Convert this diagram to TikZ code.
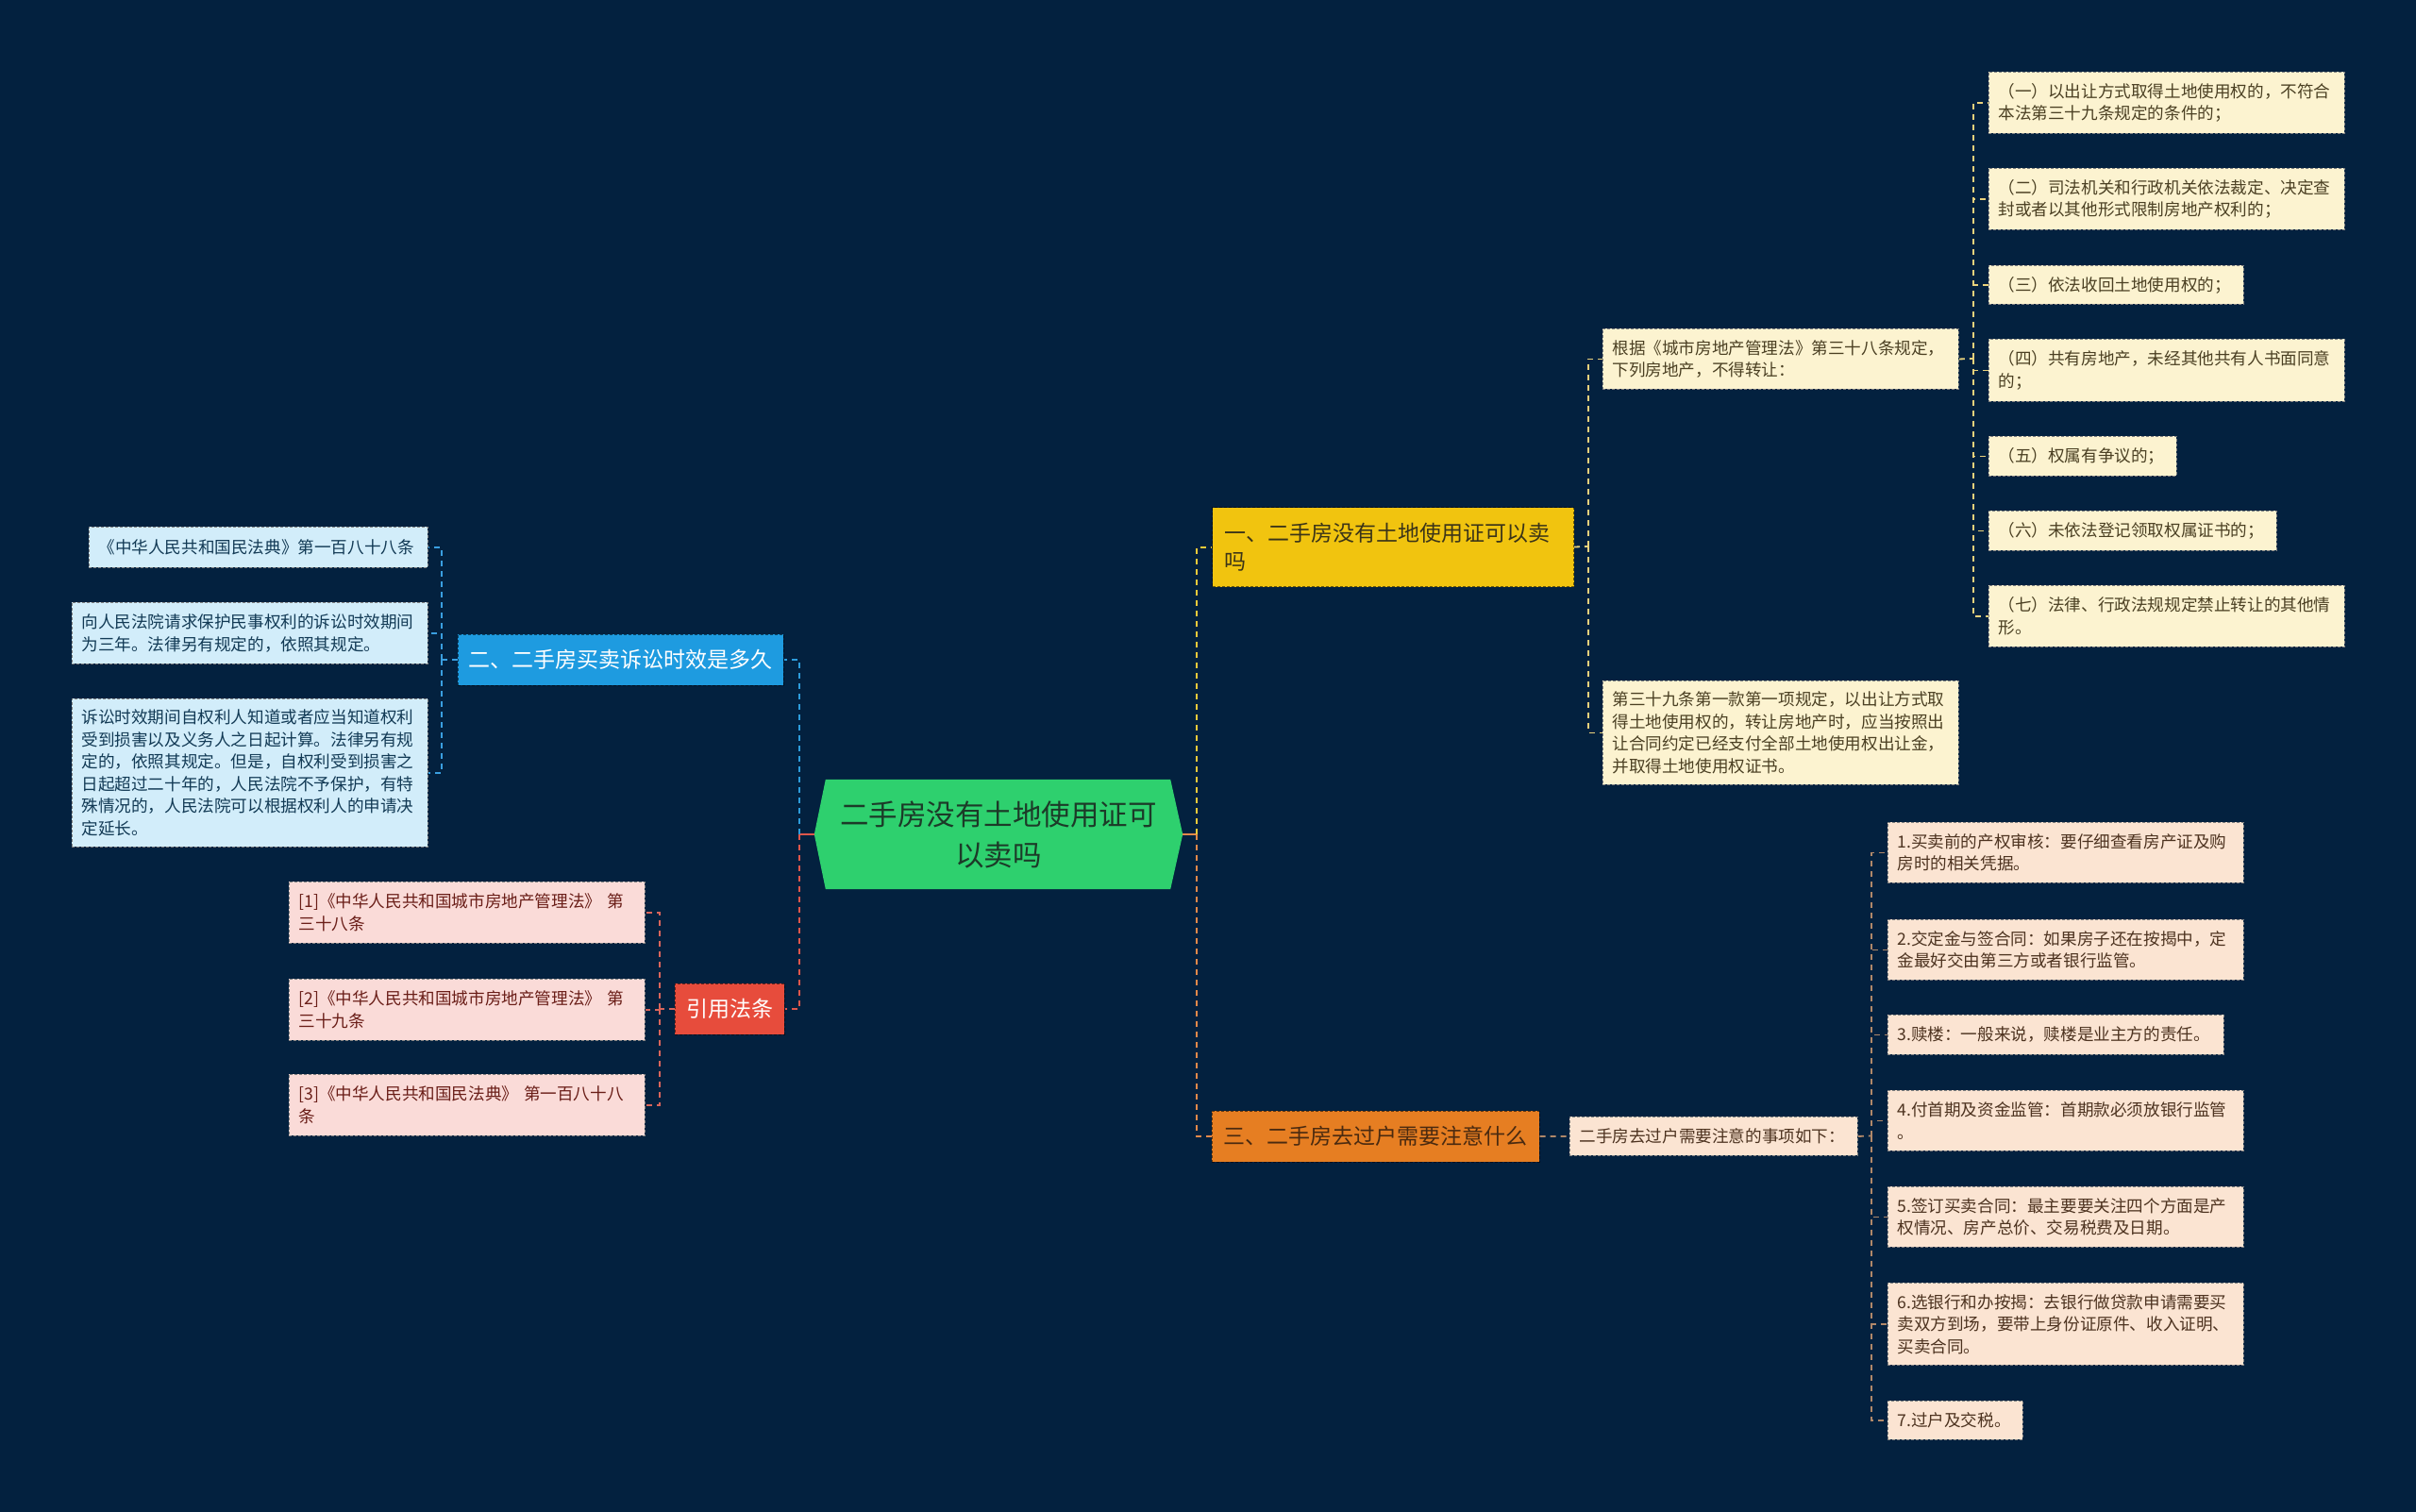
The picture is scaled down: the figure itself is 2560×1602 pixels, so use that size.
\documentclass[tikz,border=0pt]{standalone}
\usepackage{fontspec}
\newfontfamily\cjk{Noto Sans CJK SC}
\usetikzlibrary{backgrounds}
\definecolor{bg}{HTML}{03213F}
\definecolor{cgreen}{HTML}{2ED06E}
\definecolor{ctrtext}{HTML}{1C3A28}
\definecolor{bY}{HTML}{F1C40F}
\definecolor{bO}{HTML}{E67E22}
\definecolor{bB}{HTML}{1E9BE0}
\definecolor{bR}{HTML}{E74C3C}
\definecolor{tbY}{HTML}{3B3418}
\definecolor{tbO}{HTML}{4A2A10}
\definecolor{fY}{HTML}{FCF3D0}
\definecolor{tY}{HTML}{4B4023}
\definecolor{fO}{HTML}{FBE4D2}
\definecolor{tO}{HTML}{4D3320}
\definecolor{fB}{HTML}{D2EDFA}
\definecolor{tB}{HTML}{123A55}
\definecolor{fP}{HTML}{FADBD8}
\definecolor{tP}{HTML}{6A1E18}
\definecolor{lnYc}{HTML}{EFCB3A}
\definecolor{lnOc}{HTML}{E3894A}
\definecolor{lnBc}{HTML}{2D9CDB}
\definecolor{lnRc}{HTML}{E0574B}
\definecolor{lnYl}{HTML}{E9D27C}
\definecolor{lnOl}{HTML}{B08869}
\definecolor{lnBl}{HTML}{3A9FE0}
\definecolor{lnRl}{HTML}{D9655B}
\newcommand\leaffont{\cjk\fontsize{17.6}{23.5}\selectfont}
\newcommand\brfont{\cjk\fontsize{23}{30}\selectfont}
\newcommand\ctrfont{\cjk\fontsize{30.5}{43}\selectfont}
\begin{document}
\begin{tikzpicture}[x=1pt,y=-1pt,
  leaf/.style={rectangle, draw=black!50, dash pattern=on 3pt off 2pt, line width=0.9pt,
    inner xsep=10pt, inner ysep=0pt, align=left, anchor=north west, font=\leaffont},
  lY/.style={leaf, fill=fY, text=tY},
  lO/.style={leaf, fill=fO, text=tO},
  lB/.style={leaf, fill=fB, text=tB},
  lP/.style={leaf, fill=fP, text=tP},
  br/.style={rectangle, draw=black, draw opacity=0.55, dash pattern=on 3pt off 2pt, line width=1pt,
    inner sep=0pt, align=center, font=\brfont},
  ln/.style={line width=2pt, dash pattern=on 6pt off 5pt},
  lnthin/.style={line width=1.8pt, dash pattern=on 6pt off 5pt},
  ctrnode/.style={rectangle, minimum width=390pt, minimum height=116pt, inner sep=0pt,
    align=center, font=\ctrfont, text=ctrtext}
]
\begin{scope}[on background layer]
\fill[bg] (0,0) rectangle (2560,1602);
\end{scope}
\useasboundingbox (0,0) rectangle (2560,1602);

% central node
\node[ctrnode] (ctr) at (1058,884) {二手房没有土地使用证可\\以卖吗};
\begin{scope}[on background layer]
\fill[cgreen] (ctr.west) -- ([xshift=12pt]ctr.north west) -- ([xshift=-13pt]ctr.north east)
  -- (ctr.east) -- ([xshift=-13pt]ctr.south east) -- ([xshift=12pt]ctr.south west) -- cycle;
\end{scope}

% branch nodes
\node[br, fill=bY, text=tbY, anchor=north west, text width=357pt, inner xsep=13pt,
  minimum height=84pt, align=left] (b1) at (1284,537) {一、二手房没有土地使用证可以卖\\吗};
\node[br, fill=bB, text=white, minimum width=345pt, minimum height=54pt] (b2) at (657.5,699) {二、二手房买卖诉讼时效是多久};
\node[br, fill=bO, text=tbO, minimum width=347pt, minimum height=54pt] (b3) at (1457.5,1204) {三、二手房去过户需要注意什么};
\node[br, fill=bR, text=white, minimum width=116pt, minimum height=54pt] (b4) at (773,1069) {引用法条};

% branch 1 children
\node[lY, text width=357pt, minimum height=64pt] (y0) at (1698,348) {根据《城市房地产管理法》第三十八条规定，\\下列房地产，不得转让：};
\node[lY, text width=357pt, minimum height=110pt] (y8) at (1698,721) {第三十九条第一款第一项规定，以出让方式取\\得土地使用权的，转让房地产时，应当按照出\\让合同约定已经支付全部土地使用权出让金，\\并取得土地使用权证书。};
\node[lY, text width=357pt, minimum height=65pt] (y1) at (2107,76) {（一）以出让方式取得土地使用权的，不符合\\本法第三十九条规定的条件的；};
\node[lY, text width=357pt, minimum height=65pt] (y2) at (2107,178) {（二）司法机关和行政机关依法裁定、决定查\\封或者以其他形式限制房地产权利的；};
\node[lY, text width=250pt, minimum height=41pt] (y3) at (2107,281) {（三）依法收回土地使用权的；};
\node[lY, text width=357pt, minimum height=66pt] (y4) at (2107,359) {（四）共有房地产，未经其他共有人书面同意\\的；};
\node[lY, text width=179pt, minimum height=42pt] (y5) at (2107,462) {（五）权属有争议的；};
\node[lY, text width=285pt, minimum height=42pt] (y6) at (2107,541) {（六）未依法登记领取权属证书的；};
\node[lY, text width=357pt, minimum height=65pt] (y7) at (2107,620) {（七）法律、行政法规规定禁止转让的其他情\\形。};

% branch 3 children
\node[lO, text width=285pt, minimum height=41pt] (s0) at (1663,1183) {二手房去过户需要注意的事项如下：};
\node[lO, text width=357pt, minimum height=64pt] (s1) at (2000,871) {1.买卖前的产权审核：要仔细查看房产证及购\\房时的相关凭据。};
\node[lO, text width=357pt, minimum height=64pt] (s2) at (2000,974) {2.交定金与签合同：如果房子还在按揭中，定\\金最好交由第三方或者银行监管。};
\node[lO, text width=336pt, minimum height=42pt] (s3) at (2000,1075) {3.赎楼：一般来说，赎楼是业主方的责任。};
\node[lO, text width=357pt, minimum height=64pt] (s4) at (2000,1155) {4.付首期及资金监管：首期款必须放银行监管\\。};
\node[lO, text width=357pt, minimum height=64pt] (s5) at (2000,1257) {5.签订买卖合同：最主要要关注四个方面是产\\权情况、房产总价、交易税费及日期。};
\node[lO, text width=357pt, minimum height=87pt] (s6) at (2000,1359) {6.选银行和办按揭：去银行做贷款申请需要买\\卖双方到场，要带上身份证原件、收入证明、\\买卖合同。};
\node[lO, text width=123pt, minimum height=41pt] (s7) at (2000,1484) {7.过户及交税。};

% branch 2 children
\node[lB, text width=339pt, minimum height=43pt] (l1) at (94,558) {《中华人民共和国民法典》第一百八十八条};
\node[lB, text width=357pt, minimum height=65pt] (l2) at (76,638) {向人民法院请求保护民事权利的诉讼时效期间\\为三年。法律另有规定的，依照其规定。};
\node[lB, text width=357pt, minimum height=157pt] (l3) at (76,740) {诉讼时效期间自权利人知道或者应当知道权利\\受到损害以及义务人之日起计算。法律另有规\\定的，依照其规定。但是，自权利受到损害之\\日起超过二十年的，人民法院不予保护，有特\\殊情况的，人民法院可以根据权利人的申请决\\定延长。};

% branch 4 children
\node[lP, text width=357pt, minimum height=65pt] (p1) at (306,934) {[1]《中华人民共和国城市房地产管理法》 第\\三十八条};
\node[lP, text width=357pt, minimum height=65pt] (p2) at (306,1037) {[2]《中华人民共和国城市房地产管理法》 第\\三十九条};
\node[lP, text width=357pt, minimum height=65pt] (p3) at (306,1138) {[3]《中华人民共和国民法典》 第一百八十八\\条};

% junction coordinates
\coordinate (jL) at (847,884);
\coordinate (jR) at (1268,884);
\coordinate (j1) at (1683,579);
\coordinate (j2) at (2091,380);
\coordinate (j3) at (468,699);
\coordinate (j4) at (699,1069);
\coordinate (j5) at (1983,1203.5);

% central connectors
\draw[lnRc, line width=2pt] (ctr.west) -- (jL);
\draw[ln, lnBc] (jL) |- (b2.east);
\draw[ln, lnRc] (jL) |- (b4.east);
\draw[lnOc, line width=2pt] (ctr.east) -- (jR);
\draw[ln, lnYc] (jR) |- (b1.west);
\draw[ln, lnOc] (jR) |- (b3.west);

% branch 1 connectors
\draw[lnthin, lnYl] (b1.east) -- (j1);
\draw[lnthin, lnYl] (j1) |- (y0.west);
\draw[lnthin, lnYl] (j1) |- (y8.west);
\draw[lnthin, lnYl] (y0.east) -- (j2);
\foreach \n in {y1,y2,y3,y4,y5,y6,y7}{
  \draw[lnthin, lnYl] (j2) |- (\n.west);
}

% branch 3 connectors
\draw[lnthin, lnOl] (b3.east) -- (s0.west);
\draw[lnthin, lnOl] (s0.east) -- (j5);
\foreach \n in {s1,s2,s3,s4,s5,s6,s7}{
  \draw[lnthin, lnOl] (j5) |- (\n.west);
}

% branch 2 connectors
\draw[lnthin, lnBl] (b2.west) -- (j3);
\foreach \n in {l1,l2,l3}{
  \draw[lnthin, lnBl] (j3) |- (\n.east);
}

% branch 4 connectors
\draw[lnthin, lnRl] (b4.west) -- (j4);
\foreach \n in {p1,p2,p3}{
  \draw[lnthin, lnRl] (j4) |- (\n.east);
}
\end{tikzpicture}
\end{document}
